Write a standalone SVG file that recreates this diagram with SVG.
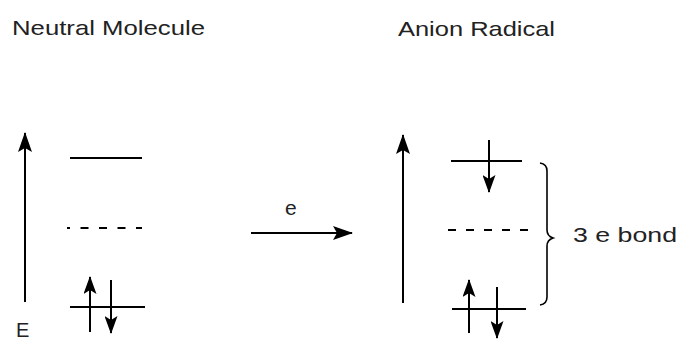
<svg xmlns="http://www.w3.org/2000/svg" width="681" height="340" viewBox="0 0 681 340">
<style>
.ln{stroke:#000;stroke-width:2;fill:none}
.dash{stroke:#000;stroke-width:2;fill:none;stroke-dasharray:8 10}
.tx{font-family:"Liberation Sans",Arial,sans-serif;font-size:21px;fill:#222}
</style>
<defs>
<marker id="ah" viewBox="0 0 20 14" refX="19" refY="7" markerWidth="20" markerHeight="14" markerUnits="userSpaceOnUse" orient="auto">
<path d="M0,0 L20,7 L0,14 L4,7 Z" fill="#000"/>
</marker>
<marker id="as" viewBox="0 0 18 13" refX="17" refY="6.5" markerWidth="18" markerHeight="13" markerUnits="userSpaceOnUse" orient="auto">
<path d="M0,0 L18,6.5 L0,13 L4,6.5 Z" fill="#000"/>
</marker>
</defs>
<g id="titles">
<text class="tx" x="12" y="35" textLength="193" lengthAdjust="spacingAndGlyphs">Neutral Molecule</text>
<text class="tx" x="398" y="36" textLength="157" lengthAdjust="spacingAndGlyphs">Anion Radical</text>
</g>
<g id="neutral">
<line class="ln" x1="25" y1="302" x2="25" y2="133" marker-end="url(#ah)"/>
<text class="tx" x="16" y="337" style="font-size:20px">E</text>
<line class="ln" x1="70" y1="158" x2="142" y2="158"/>
<line class="dash" x1="67" y1="228" x2="142" y2="228" style="stroke-dashoffset:5;stroke-dasharray:8 10.5"/>
<line class="ln" x1="70" y1="307" x2="145" y2="307"/>
<line class="ln" x1="90" y1="332" x2="90" y2="277" marker-end="url(#as)"/>
<line class="ln" x1="111" y1="280" x2="111" y2="333" marker-end="url(#as)"/>
</g>
<g id="anion">
<line class="ln" x1="403" y1="303" x2="403" y2="135" marker-end="url(#ah)"/>
<line class="ln" x1="451" y1="161" x2="522" y2="161"/>
<line class="ln" x1="489" y1="140" x2="489" y2="192" marker-end="url(#as)"/>
<line class="dash" x1="448" y1="230" x2="528" y2="230"/>
<line class="ln" x1="452" y1="309" x2="526" y2="309"/>
<line class="ln" x1="469" y1="333" x2="469" y2="280" marker-end="url(#as)"/>
<line class="ln" x1="497" y1="287" x2="497" y2="338" marker-end="url(#as)"/>
</g>
<g id="brace">
<path d="M540,163 Q547,164 547,171 L547,230 Q547,236 553,238 Q547,240 547,246 L547,297 Q547,304 540,305" stroke="#000" stroke-width="1.6" fill="none"/>
<text class="tx" x="573" y="242" textLength="104" lengthAdjust="spacingAndGlyphs">3 e bond</text>
</g>
<g id="connectors">
<line class="ln" x1="251" y1="233" x2="352" y2="233" marker-end="url(#ah)"/>
<text class="tx" x="285" y="215">e</text>
</g>
</svg>
